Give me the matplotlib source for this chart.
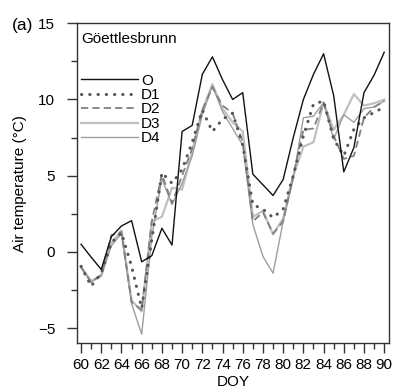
import matplotlib
matplotlib.use("Agg")
import matplotlib.pyplot as plt
from matplotlib.ticker import MultipleLocator

plt.rcParams['font.family'] = ['Liberation Sans', 'DejaVu Sans']

doy = list(range(60, 91))
O  = [0.5, -0.35, -1.15, 1.0, 1.7, 2.05, -0.65, -0.25, 1.55, 0.45, 7.9, 8.3, 11.65, 12.8, 11.3, 10.0, 10.45,
      5.1, 4.4, 3.7, 4.75, 7.5, 10.0, 11.65, 13.0, 10.25, 5.25, 6.85, 10.45, 11.6, 13.1]
D1 = [-0.95, -2.25, -1.4, 0.6, 1.25, -0.95, -3.7, 0.8, 5.2, 4.5, 5.4, 7.2, 9.3, 7.9, 8.7, 9.1, 7.0,
      3.1, 2.8, 2.25, 2.8, 5.0, 7.6, 9.7, 9.9, 7.4, 6.3, 8.05, 8.8, 9.15, 9.5]
D2 = [-1.0, -2.0, -1.5, 1.1, 1.3, -3.3, -3.8, 2.0, 5.1, 3.2, 5.0, 6.8, 9.3, 10.8, 9.6, 9.1, 7.2,
      2.0, 2.6, 1.2, 2.0, 5.0, 8.0, 8.1, 9.8, 7.6, 6.1, 6.3, 8.8, 9.5, 9.9]
D3 = [-1.0, -1.9, -1.6, 0.6, 1.4, -3.2, -3.9, 2.0, 2.3, 4.2, 4.1, 6.6, 9.3, 11.0, 9.4, 8.5, 7.9,
      2.3, 2.7, 1.15, 2.2, 5.0, 6.9, 7.2, 9.8, 8.0, 9.0, 10.35, 9.6, 9.75, 10.0]
D4 = [-1.0, -2.0, -1.5, 0.4, 1.2, -3.4, -5.4, 1.0, 4.8, 3.1, 4.5, 6.3, 9.0, 10.9, 9.2, 8.1, 7.0,
      1.8, -0.3, -1.4, 2.0, 4.8, 8.8, 8.9, 9.8, 7.4, 9.0, 8.5, 9.4, 9.5, 9.9]
yticks = [-5, 0, 5, 10, 15]
ytick_labels = ['\u22125', '0', '5', '10', '15']

fig = plt.figure(figsize=(3.96, 3.92), dpi=100)
ax = fig.add_axes([0.1937, 0.1242, 0.7893, 0.8164])

ax.plot(doy, D3, color='#c0c0c0', lw=1.6, label='D3', zorder=2)
ax.plot(doy, D4, color='#9e9e9e', lw=1.0, label='D4', zorder=3)
ax.plot(doy, D2, color='#808080', lw=1.3, ls=(0, (4, 2.3)), label='D2', zorder=4)
ax.plot(doy, D1, color='#555555', lw=2.2, ls=(0, (0.1, 2.6)), dash_capstyle='round', label='D1', zorder=5)
ax.plot(doy, O, color='#111111', lw=1.0, label='O', zorder=6)

ax.set_xlim(59.57, 90.5)
ax.set_ylim(-6, 15)
ax.xaxis.set_major_locator(MultipleLocator(2))
ax.xaxis.set_minor_locator(MultipleLocator(1))
ax.set_yticks(yticks)
ax.set_yticklabels(ytick_labels)
ax.yaxis.set_minor_locator(MultipleLocator(2.5))
ax.tick_params(axis='both', which='major', direction='out', length=7.5, width=1, labelsize=11, color='#333333')
ax.tick_params(axis='both', which='minor', direction='out', length=4, width=1, color='#333333')
ax.tick_params(axis='x', which='major', pad=3)
ax.tick_params(axis='y', which='major', pad=8)
for s in ax.spines.values():
    s.set_color('#333333')
    s.set_linewidth(1)

ax.set_xlabel('DOY', fontsize=11, labelpad=2)
ax.set_ylabel('Air temperature (\u00b0C)', fontsize=11, labelpad=8)

ax.text(0.014, 0.951, 'G\u00f6ettlesbrunn', transform=ax.transAxes, fontsize=11, ha='left', va='center')
fig.text(0.03, 0.936, '(a)', fontsize=12.5, ha='left', va='center')

handles, labels = ax.get_legend_handles_labels()
order = [labels.index(k) for k in ['O', 'D1', 'D2', 'D3', 'D4']]
leg = ax.legend([handles[i] for i in order], [labels[i] for i in order],
                loc='upper left', bbox_to_anchor=(-0.007, 0.862), frameon=False,
                handlelength=3.75, handletextpad=0.2, labelspacing=0.03, fontsize=11,
                borderaxespad=0)

fig.savefig('out.png', dpi=100)
